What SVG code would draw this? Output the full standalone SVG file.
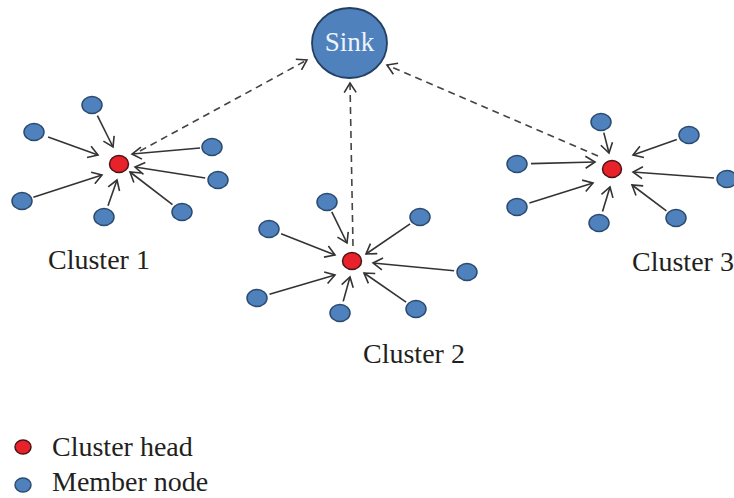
<svg xmlns="http://www.w3.org/2000/svg" width="734" height="498" viewBox="0 0 734 498">
  <style>
    .member { fill: #4f81bd; stroke: #2b4a70; stroke-width: 1.5; }
    .head { fill: #e8222a; stroke: #4a1515; stroke-width: 1.5; }
    .link { fill: none; stroke: #333; stroke-width: 1.6; marker-end: url(#open-arrow); }
    .uplink { fill: none; stroke: #444; stroke-width: 1.6; stroke-dasharray: 7 5; marker-end: url(#open-arrow); }
    .label { font-family: "Liberation Serif", "Times New Roman", serif; font-size: 28px; fill: #231f20; }
    .sink-text { font-family: "Liberation Serif", "Times New Roman", serif; font-size: 27px; fill: #eef3fb; }
  </style>
  <defs>
    <marker id="open-arrow" viewBox="-11 -7 13 14" refX="0" refY="0" markerWidth="13" markerHeight="14" markerUnits="userSpaceOnUse" orient="auto">
      <path d="M-9.5,-6 L0,0 L-9.5,6" fill="none" stroke="#333" stroke-width="1.6"/>
    </marker>
  </defs>

  <rect width="734" height="498" fill="#fff"/>

  <!-- connectors -->
  <g id="connectors">
    <!-- cluster 1 members to head -->
    <line class="link" x1="97.4" y1="115.7" x2="113" y2="147"/>
    <line class="link" x1="48.1" y1="137.1" x2="98" y2="155"/>
    <line class="link" x1="33.4" y1="197.3" x2="102" y2="175"/>
    <line class="link" x1="108" y1="205.7" x2="117" y2="180"/>
    <line class="link" x1="172.5" y1="204.7" x2="130" y2="172"/>
    <line class="link" x1="205.2" y1="178" x2="135" y2="167"/>
    <line class="link" x1="200" y1="148" x2="132" y2="154"/>
    <!-- cluster 2 members to head -->
    <line class="link" x1="331.8" y1="211.9" x2="347" y2="243"/>
    <line class="link" x1="281.1" y1="233.8" x2="335" y2="255"/>
    <line class="link" x1="410.1" y1="223.8" x2="366" y2="254"/>
    <line class="link" x1="454.1" y1="270.8" x2="373" y2="263"/>
    <line class="link" x1="269.5" y1="294.3" x2="335" y2="275"/>
    <line class="link" x1="343.2" y1="301.4" x2="350" y2="277"/>
    <line class="link" x1="406.1" y1="302.2" x2="364" y2="273"/>
    <!-- cluster 3 members to head -->
    <line class="link" x1="603.8" y1="132.6" x2="609" y2="153"/>
    <line class="link" x1="676.8" y1="139.4" x2="633" y2="155"/>
    <line class="link" x1="531" y1="163.6" x2="595" y2="162"/>
    <line class="link" x1="714" y1="178" x2="633" y2="172"/>
    <line class="link" x1="529.4" y1="203.1" x2="593" y2="183"/>
    <line class="link" x1="602.5" y1="211.5" x2="610" y2="187"/>
    <line class="link" x1="666.4" y1="210.8" x2="632" y2="185"/>
    <!-- heads to sink -->
    <line class="uplink" x1="140" y1="151" x2="307" y2="60"/>
    <line class="uplink" x1="353" y1="246" x2="350" y2="83"/>
    <line class="uplink" x1="598" y1="156" x2="387" y2="65"/>
  </g>

  <!-- sink -->
  <g id="sink">
    <ellipse cx="349.5" cy="43" rx="37.5" ry="35" fill="#4f81bd" stroke="#233f63" stroke-width="1.8"/>
    <text class="sink-text" x="349.5" y="51" text-anchor="middle">Sink</text>
  </g>

  <!-- cluster 1 -->
  <g id="cluster-1">
    <ellipse class="head" cx="119" cy="164" rx="9.5" ry="8.5"/>
    <ellipse class="member" cx="92" cy="105" rx="10" ry="8.5"/>
    <ellipse class="member" cx="34" cy="132" rx="10" ry="8.5"/>
    <ellipse class="member" cx="22" cy="201" rx="10" ry="8.5"/>
    <ellipse class="member" cx="104" cy="217" rx="10" ry="8.5"/>
    <ellipse class="member" cx="182" cy="212" rx="10" ry="8.5"/>
    <ellipse class="member" cx="218" cy="180" rx="10" ry="8.5"/>
    <ellipse class="member" cx="212" cy="147" rx="10" ry="8.5"/>
    <text class="label" x="48" y="269">Cluster 1</text>
  </g>

  <!-- cluster 2 -->
  <g id="cluster-2">
    <ellipse class="head" cx="352" cy="261" rx="9.5" ry="8.5"/>
    <ellipse class="member" cx="327" cy="202" rx="10" ry="8.5"/>
    <ellipse class="member" cx="269" cy="229" rx="10" ry="8.5"/>
    <ellipse class="member" cx="420" cy="217" rx="10" ry="8.5"/>
    <ellipse class="member" cx="467" cy="272" rx="10" ry="8.5"/>
    <ellipse class="member" cx="257" cy="298" rx="10" ry="8.5"/>
    <ellipse class="member" cx="340" cy="313" rx="10" ry="8.5"/>
    <ellipse class="member" cx="416" cy="309" rx="10" ry="8.5"/>
    <text class="label" x="363" y="363">Cluster 2</text>
  </g>

  <!-- cluster 3 -->
  <g id="cluster-3">
    <ellipse class="head" cx="612" cy="169" rx="9.5" ry="8.5"/>
    <ellipse class="member" cx="601" cy="122" rx="10" ry="8.5"/>
    <ellipse class="member" cx="689" cy="135" rx="10" ry="8.5"/>
    <ellipse class="member" cx="517" cy="164" rx="10" ry="8.5"/>
    <ellipse class="member" cx="727" cy="179" rx="10" ry="8.5"/>
    <ellipse class="member" cx="517" cy="207" rx="10" ry="8.5"/>
    <ellipse class="member" cx="599" cy="223" rx="10" ry="8.5"/>
    <ellipse class="member" cx="676" cy="218" rx="10" ry="8.5"/>
    <text class="label" x="632" y="271">Cluster 3</text>
  </g>

  <!-- legend -->
  <g id="legend">
    <ellipse class="head" cx="23" cy="447" rx="8" ry="7"/>
    <text class="label" x="52" y="456">Cluster head</text>
    <ellipse class="member" cx="23" cy="485" rx="8" ry="7"/>
    <text class="label" x="52" y="491">Member node</text>
  </g>
</svg>
